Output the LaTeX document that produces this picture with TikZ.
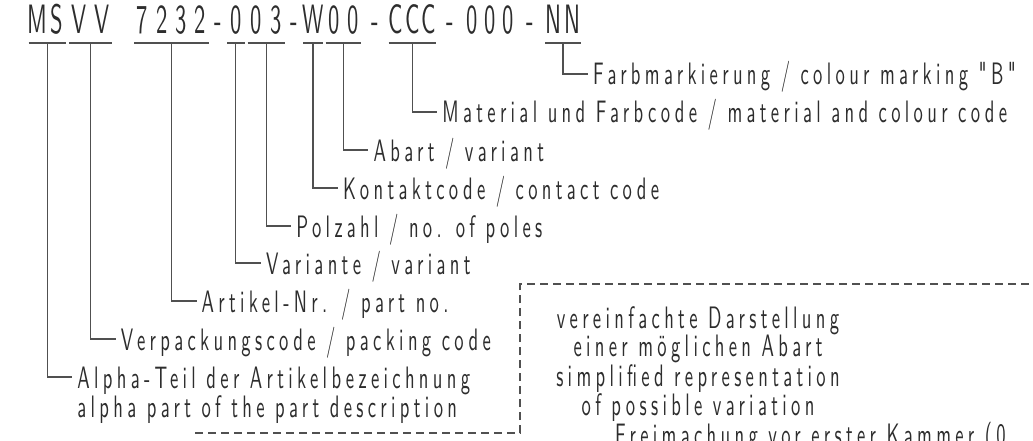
\documentclass[tikz,border=0pt]{standalone}
\usepackage{fontspec}
\usetikzlibrary{positioning,calc}
\newfontfamily\isofont[FakeStretch=0.55]{lmsans10-regular.otf}
\newfontfamily\isolabel[FakeStretch=0.6,LetterSpace=14]{lmsans10-regular.otf}
\definecolor{InkLine}{RGB}{80,80,80}
\definecolor{InkText}{RGB}{45,45,45}
% one fixed-width cell per character
\newlength\cellw
\makeatletter
\newcommand\cells[2]{\setlength\cellw{#1pt}\@tfor\c:=#2\do{\makebox[\cellw]{\c}}}
\makeatother

\begin{document}
\begin{tikzpicture}[x=1pt,y=1pt,
    code/.style={inner sep=0pt,text height=29pt,text depth=0pt,text=InkText,
                 font=\isofont\fontsize{41}{44}\selectfont},
    lbl/.style={inner sep=0pt,anchor=west,text height=22pt,text depth=0pt,
                text=InkText,font=\isolabel\fontsize{31}{27}\selectfont},
    boxtxt/.style={inner sep=0pt,align=center,text=InkText,
                   font=\isolabel\fontsize{31}{26}\selectfont},
    leader/.style={InkLine,line width=1.3pt},
    frame/.style={InkLine,line width=1.1pt,dash pattern=on 8pt off 5pt}
  ]
  \useasboundingbox (0,0) rectangle (1033,440);

  % part number, one node per field
  \node[code,anchor=south west] (ms) at (27,406) {\cells{20}{MS}};
  \node[code,right=0pt of ms] (vv) {\cells{23}{VV}};
  \node[code,right=19pt of vv] (artnr) {\cells{19.25}{7232}};
  \node[code,right=0pt of artnr] (dA) {\cells{15}{-}};
  \node[code,right=0pt of dA] (var) {\cells{20}{0}};
  \node[code,right=0pt of var] (pol) {\cells{20}{03}};
  \node[code,right=0pt of pol] (dB) {\cells{15}{-}};
  \node[code,right=0pt of dB] (kon) {\cells{22}{W}};
  \node[code,right=0pt of kon] (ab) {\cells{19}{00}};
  \node[code,right=0pt of ab] (dC) {\cells{24}{-}};
  \node[code,right=0pt of dC] (mat) {\cells{16.7}{CCC}};
  \node[code,right=0pt of mat] (dD) {\cells{25}{-}};
  \node[code,right=0pt of dD] (zeros) {\cells{18}{000}};
  \node[code,right=0pt of zeros] (dE) {\cells{26}{-}};
  \node[code,right=0pt of dE] (nn) {\cells{19}{NN}};

  % underlines
  \foreach \n in {ms,vv,artnr,var,pol,kon,ab,mat,nn}
    \draw[leader] ([shift={(1.5pt,-9pt)}]\n.south west) -- ([shift={(-1.5pt,-9pt)}]\n.south east);

  % labels
  \path (nn.south |- 0,366) ++(30,0) node[lbl] (farb) {Farbmarkierung / colour marking "B"};
  \draw[leader] ([yshift=-9pt]nn.south) |- ([xshift=-5pt]farb.west);
  \path (mat.south |- 0,328) ++(30,0) node[lbl] (matl) {Material und Farbcode / material and colour code};
  \draw[leader] ([yshift=-9pt]mat.south) |- ([xshift=-5pt]matl.west);
  \path (ab.south |- 0,290) ++(30,0) node[lbl] (abart) {Abart / variant};
  \draw[leader] ([yshift=-9pt]ab.south) |- ([xshift=-5pt]abart.west);
  \path (kon.south |- 0,252) ++(30,0) node[lbl] (kontakt) {Kontaktcode / contact code};
  \draw[leader] ([yshift=-9pt]kon.south) |- ([xshift=-5pt]kontakt.west);
  \path (pol.south |- 0,214) ++(30,0) node[lbl] (polzahl) {Polzahl / no. of poles};
  \draw[leader] ([yshift=-9pt]pol.south) |- ([xshift=-5pt]polzahl.west);
  \path (var.south |- 0,177) ++(30,0) node[lbl] (variante) {Variante / variant};
  \draw[leader] ([yshift=-9pt]var.south) |- ([xshift=-5pt]variante.west);
  \path (artnr.south |- 0,139) ++(30,0) node[lbl] (artikel) {Artikel-Nr. / part no.};
  \draw[leader] ([yshift=-9pt]artnr.south) |- ([xshift=-5pt]artikel.west);
  \path (vv.south |- 0,101) ++(30,0) node[lbl] (verpack) {Verpackungscode / packing code};
  \draw[leader] ([yshift=-9pt]vv.south) |- ([xshift=-5pt]verpack.west);
  \path (ms.south |- 0,63) ++(30,0) node[lbl] (alpha) {Alpha-Teil der Artikelbezeichnung};
  \node[lbl] (alpha2) at ([yshift=-29pt]alpha.west) {alpha part of the part description};
  \draw[leader] ([yshift=-9pt]ms.south) |- ([xshift=-5pt]alpha.west);

  % simplified view, dashed frame
  \draw[frame] (195,7) -- (520,7) -- (520,156) -- (1040,156);
  \node[boxtxt,anchor=north] (simpl) at (698,134)
    {vereinfachte Darstellung\\einer möglichen Abart\\simplified representation\\of possible variation};
  \node[lbl,anchor=base west] (frei) at (615,-5) {Freimachung vor erster Kammer (0};
\end{tikzpicture}
\end{document}
